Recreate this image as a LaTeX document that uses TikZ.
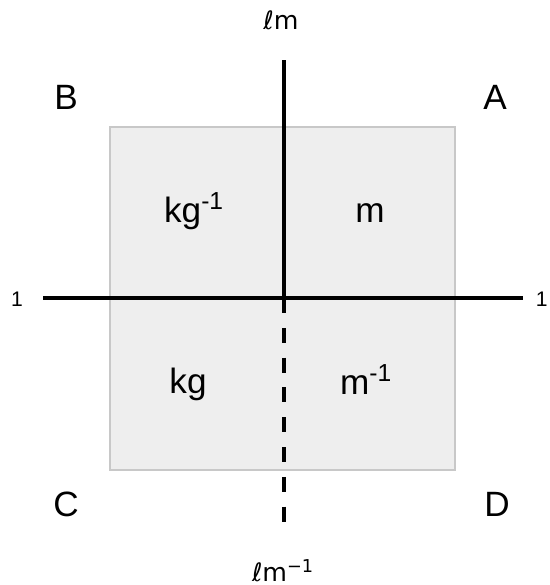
\documentclass[tikz,border=0pt]{standalone}
\usepackage{fontspec}
\setmainfont{Liberation Sans}
\newfontfamily\ellfont{DejaVu Sans}
\usepackage{xcolor}
\definecolor{boxfill}{HTML}{EEEEEE}
\definecolor{boxline}{HTML}{C8C8C8}

\begin{document}
\begin{tikzpicture}[x=0.025cm, y=-0.025cm,
    axis/.style={line width=2.5pt, black},
    corner/.style={font=\fontsize{25}{28}\selectfont, anchor=base},
    unit/.style={font=\fontsize{25}{28}\selectfont, anchor=base},
    pole/.style={font=\ellfont\fontsize{18}{20}\selectfont, anchor=base}]
        \useasboundingbox (0,0) rectangle (549,585);
        \clip (0,0) rectangle (549,585);

        % Define corners of the square
        \coordinate (S1) at (110,127);   % Top-left
        \coordinate (S2) at (455,470);   % Bottom-right

        % Define ends of the axes
        \coordinate (V1) at (284,60);    % Top
        \coordinate (O) at (284,298);    % Centre
        \coordinate (V2) at (284,527);   % Bottom
        \coordinate (H1) at (43,298);    % Left
        \coordinate (H2) at (523,298);   % Right

        % Draw the square
        \filldraw[fill=boxfill, draw=boxline, line width=1pt] (S1) rectangle (S2);

        % Draw the axes
        \draw[axis] (H1) -- (H2);
        \draw[axis] (V1) -- (O);
        \draw[axis, dash pattern=on 10.6pt off 10.6pt] (O) -- (V2);

        % Label the ends of the axes
        \node[pole] (top) at (281,29) {ℓm};
        \node[pole] (bottom) at (283,581) {ℓm\textsuperscript{−1}};
        \node[anchor=base, font=\fontsize{15}{17}\selectfont] (left) at (17,306) {1};
        \node[anchor=base east, inner sep=0pt, font=\fontsize{15}{17}\selectfont] (right) at (548,306) {1};

        % Label the corners
        \node[corner] (B) at (66,109) {B};
        \node[corner] (A) at (495,109) {A};
        \node[corner] (C) at (66,516) {C};
        \node[corner] (D) at (497,516) {D};

        % Label the quarters
        \node[unit] (q2) at (194,222) {kg\textsuperscript{-1}};
        \node[unit] (q1) at (370,222) {m};
        \node[unit] (q3) at (188,393) {kg};
        \node[unit] (q4) at (366,394) {m\textsuperscript{-1}};
    \end{tikzpicture}
\end{document}
